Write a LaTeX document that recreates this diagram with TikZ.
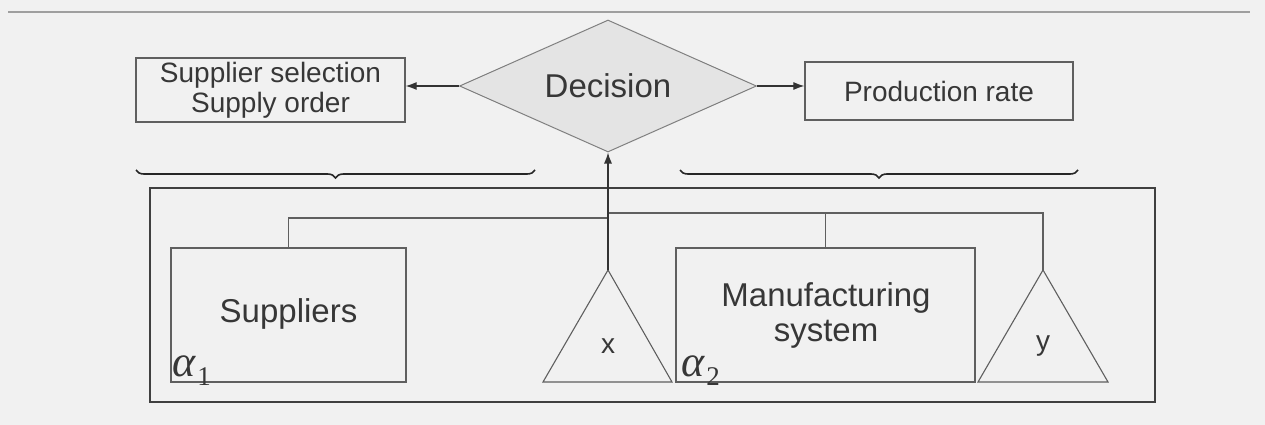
\documentclass[tikz,border=0pt]{standalone}
\usepackage{fontspec}
\setmainfont{Liberation Sans}
\newfontfamily\greekfont{Liberation Serif}
\usetikzlibrary{shapes.geometric,arrows.meta,decorations.pathreplacing}
\definecolor{bgcol}{RGB}{241,241,241}
\definecolor{inkcol}{RGB}{55,55,55}
\definecolor{edgecol}{RGB}{95,95,95}
\definecolor{diafill}{RGB}{228,228,228}
\newcommand{\alphalabel}[1]{{\greekfont\itshape\fontsize{44}{44}\selectfont α}\kern2pt\raisebox{-9pt}{\greekfont\fontsize{27}{27}\selectfont #1}}
\begin{document}
\begin{tikzpicture}[x=1pt,y=-1pt,
  every node/.style={text=inkcol},
  plainbox/.style={draw=edgecol,line width=1.3pt,rectangle,inner sep=0pt},
  smalltext/.style={font=\fontsize{28}{30}\selectfont,align=center},
  bigtext/.style={font=\fontsize{33}{35}\selectfont,align=center},
  decbox/.style={draw=edgecol!80,fill=diafill,line width=1pt,diamond,inner sep=0pt},
  wire/.style={draw=edgecol,line width=1.2pt},
  arrowwire/.style={wire,-{Latex[length=11pt,width=8pt]},draw=black!80},
  tri/.style={draw=edgecol,line width=1.1pt},
  bracestyle/.style={draw=black!85,line width=1.6pt,decorate,decoration={brace,mirror,amplitude=8pt}}]

% canvas
\fill[bgcol] (0,0) rectangle (1265,425);
\useasboundingbox (0,0) rectangle (1265,425);
\draw[draw=gray!75,line width=1.5pt] (8,12) -- (1250,12);

% decision level
\node[decbox,minimum width=297pt,minimum height=132pt] (dec) at (608,86) {};
\node[bigtext] at (dec.center) {Decision};
\node[plainbox,smalltext,minimum width=269pt,minimum height=64pt] (sel) at (270.5,90)
  {Supplier selection\\Supply order};
\node[plainbox,smalltext,minimum width=268pt,minimum height=58pt] (rate) at (939,91)
  {Production rate};
\draw[arrowwire] (dec.west) -- (dec.west -| sel.east);
\draw[arrowwire] (dec.east) -- (dec.east -| rate.west);

% braces
\coordinate (bl1) at (136,170);
\coordinate (bl2) at (535,170);
\coordinate (br1) at (680,170);
\coordinate (br2) at (1078,170);
\draw[bracestyle] (bl1) -- (bl2);
\draw[bracestyle] (br1) -- (br2);

% system frame
\node[draw=black!75,line width=2pt,rectangle,minimum width=1005pt,minimum height=214pt] (frame) at (652.5,295) {};

% components
\node[plainbox,minimum width=235pt,minimum height=134pt] (sup) at (288.5,315) {};
\node[bigtext] at (288.5,314) {Suppliers};
\node[anchor=base west,inner sep=0pt] at (172,376) {\alphalabel{1}};

\node[plainbox,minimum width=299pt,minimum height=134pt] (mfg) at (825.5,315) {};
\node[bigtext] at (826,315) {Manufacturing\\system};
\node[anchor=base west,inner sep=0pt] at (681,376) {\alphalabel{2}};

% stock triangles
\coordinate (xtop) at (608,270);
\coordinate (xl) at (543,382);
\coordinate (xr) at (672,382);
\draw[tri] (xtop) -- (xl) -- (xr) -- cycle;
\node[font=\fontsize{28}{28}\selectfont] (xlab) at (608,346) {x};

\coordinate (ytop) at (1043,270);
\coordinate (yl) at (978,382);
\coordinate (yr) at (1108,382);
\draw[tri] (ytop) -- (yl) -- (yr) -- cycle;
\node[font=\fontsize{28}{28}\selectfont] (ylab) at (1043,346) {y};

% information links
\coordinate (jl) at (608,218);
\coordinate (jr) at (608,213);
\draw[wire] (sup.north) |- (jl);
\draw[wire] (jr) -| (ytop);
\draw[wire] (mfg.north) -- (mfg.north |- jr);
\draw[arrowwire] (xtop) -- (dec.south);
\end{tikzpicture}
\end{document}
